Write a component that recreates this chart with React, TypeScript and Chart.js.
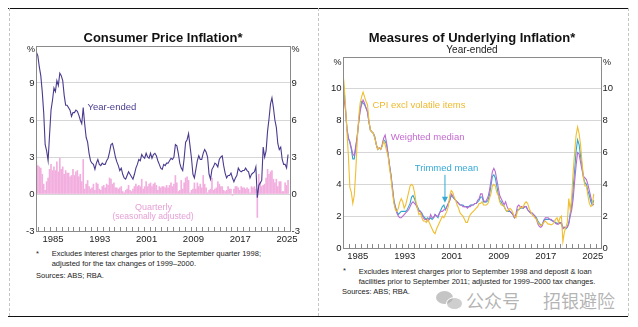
import React, { useEffect, useRef } from "react";
import { Chart, registerables } from "chart.js";

Chart.register(...registerables);

const FONT = "'Liberation Sans', Arial, Helvetica, sans-serif";
Chart.defaults.font.family = FONT;

// ---------- Data ----------
// Left chart: quarterly from 1982 Q3 to 2025 Q3
const leftStart = { year: 1982, quarter: 3 };
const yearEnded = [
  11.5, 11.2,
  10.3, 9.6, 8.3, 6.6,
  4.0, 3.5, 2.7, 4.8,
  6.8, 7.6, 8.6, 8.3,
  9.2, 8.8, 9.8, 9.6,
  9.2, 8.0, 7.2, 7.2,
  7.0, 6.8, 6.3, 6.6,
  6.6, 6.8, 6.7, 6.4,
  6.0, 5.7, 7.0, 5.7,
  4.6, 4.2, 3.3, 2.7,
  2.5, 2.4, 2.0, 2.5,
  2.8, 2.4, 2.3, 2.5,
  2.4, 2.4, 2.7, 2.9,
  3.4, 4.0, 4.1, 3.6,
  3.0, 2.6, 2.3, 1.9,
  2.1, 1.6, 1.3, 1.2,
  1.5, 1.8, 1.6, 1.4,
  1.2, 1.6, 2.1, 2.4,
  2.8, 2.7, 3.2, 3.0,
  2.9, 3.3, 3.0, 2.9,
  3.3, 2.9, 3.2, 3.3,
  3.1, 2.7, 2.4, 2.1,
  2.0, 2.4, 2.3, 2.5,
  2.5, 2.7, 2.9, 2.8,
  3.0, 4.0, 3.9, 3.3,
  2.5, 2.1, 1.9, 2.9,
  4.2, 4.4, 4.9, 3.9,
  2.9, 1.6, 1.3, 2.0,
  2.7, 3.1, 2.8, 2.8,
  3.3, 3.6, 3.4, 3.0,
  1.6, 1.2, 2.0, 2.2,
  2.5, 2.4, 2.2, 2.8,
  3.0, 3.1, 2.3, 1.7,
  1.3, 1.5, 1.5, 1.7,
  1.3, 1.0, 1.3, 1.5,
  2.1, 1.9, 1.8, 1.9,
  1.9, 2.1, 1.9, 1.8,
  1.3, 1.6, 1.7, 1.8,
  2.2, -0.3, 0.7, 0.9,
  1.1, 3.8, 3.0, 3.5,
  5.1, 6.1, 7.3, 7.8,
  7.0, 6.0, 5.4, 4.1,
  3.6, 3.8, 2.8, 2.4,
  2.4, 2.1, 3.2,
];
const quarterlySA = [
  2.6, 2.3,
  2.2, 2.1, 1.6, 0.8,
  0.3, 1.0, 1.3, 2.0,
  2.4, 1.9, 2.2, 1.9,
  2.6, 1.8, 2.9, 2.0,
  2.2, 1.6, 1.9, 1.7,
  1.7, 1.4, 1.5, 2.0,
  1.5, 1.8, 1.9, 1.4,
  1.6, 1.0, 2.8, 0.4,
  0.8, 1.1, 0.6, 0.4,
  0.5, 0.8, 0.3, 0.9,
  0.8, 0.4, 0.3, 0.6,
  0.7, 0.5, 0.8, 0.7,
  1.3, 1.2, 0.8, 0.9,
  0.5, 0.5, 0.4, 0.5,
  0.6, 0.2, 0.1, 0.3,
  0.4, 0.7, 0.3, 0.2,
  0.4, 0.6, 0.8, 0.6,
  0.7, 0.6, 1.2, 0.4,
  0.6, 1.0, 0.6, 0.8,
  0.9, 0.6, 0.8, 0.9,
  0.7, 0.3, 0.6, 0.5,
  0.6, 0.6, 0.5, 0.7,
  0.5, 0.7, 0.9, 0.6,
  0.8, 1.5, 0.9, 0.2,
  0.3, 1.1, 0.4, 0.9,
  1.3, 1.4, 1.1, 0.1,
  0.3, 0.4, 0.9, 0.4,
  0.9, 0.6, 0.8, 0.5,
  1.5, 0.8, 0.5, 0.1,
  0.3, 0.4, 1.3, 0.3,
  0.4, 0.5, 1.0, 0.8,
  0.6, 0.6, 0.3, 0.2,
  0.3, 0.6, 0.4, 0.4,
  -0.1, 0.4, 0.6, 0.6,
  0.5, 0.3, 0.6, 0.5,
  0.5, 0.4, 0.5, 0.4,
  0.1, 0.6, 0.5, 0.6,
  0.4, -1.9, 1.6, 0.9,
  0.6, 0.7, 0.8, 1.3,
  2.0, 1.6, 1.8, 1.9,
  1.2, 0.9, 1.2, 0.6,
  1.0, 1.0, 0.2, 0.2,
  0.9, 0.7, 1.1,
];

// Right chart: quarterly from 1982 Q4 to 2025 Q3
const rightStart = { year: 1982, quarter: 4 };
const trimmedMean = [
  10.8,
  10.0, 8.8, 7.5, 6.9,
  6.6, 6.2, 5.6, 5.6,
  6.3, 7.0, 7.9, 8.7,
  9.2, 9.1, 9.0, 8.8,
  8.6, 7.9, 7.4, 7.3,
  7.2, 7.0, 6.5, 6.2,
  6.3, 6.2, 6.4, 6.8,
  6.7, 6.5, 5.9, 5.2,
  4.6, 3.8, 3.0, 2.6,
  2.3, 2.1, 2.2, 2.3,
  2.3, 2.3, 2.3, 2.4,
  2.6, 2.8, 3.2, 3.3,
  3.1, 2.8, 2.6, 2.4,
  2.3, 2.2, 2.0, 1.9,
  1.8, 1.9, 1.8, 1.9,
  1.8, 1.9, 2.1, 2.0,
  1.9, 2.2, 2.4, 2.6,
  2.7, 2.4, 2.6, 2.8,
  3.0, 3.3, 3.2, 3.1,
  3.0, 2.9, 2.8, 2.7,
  2.7, 2.7, 2.6, 2.6,
  2.6, 2.6, 2.7, 2.7,
  2.7, 2.8, 2.8, 2.9,
  3.0, 3.2, 3.2, 2.9,
  2.9, 2.9, 3.0, 3.3,
  3.9, 4.5, 4.6, 4.4,
  3.9, 3.4, 3.0, 2.9,
  2.7, 2.6, 2.4, 2.3,
  2.3, 2.3, 2.2, 2.1,
  1.9, 2.0, 2.4, 2.4,
  2.5, 2.5, 2.5, 2.6,
  2.6, 2.4, 2.3, 2.2,
  2.2, 2.1, 2.0, 1.9,
  1.7, 1.55, 1.45, 1.5,
  1.75, 1.8, 1.8, 1.8,
  1.8, 1.75, 1.7, 1.7,
  1.6, 1.55, 1.55, 1.6,
  1.6, 1.3, 1.3, 1.2,
  1.3, 1.6, 2.2, 2.7,
  3.8, 4.9, 6.1, 6.8,
  6.5, 5.8, 5.2, 4.4,
  4.1, 4.0, 3.6, 3.3,
  2.9, 2.7, 3.0,
];
const weightedMedian = [
  9.8,
  9.4, 8.7, 7.5, 6.9,
  6.7, 6.3, 5.9, 5.8,
  6.4, 7.0, 7.9, 8.6,
  9.0, 9.3, 9.1, 8.8,
  8.5, 7.9, 7.4, 7.3,
  7.2, 6.9, 6.5, 6.2,
  6.3, 6.2, 6.5, 6.9,
  7.1, 6.6, 5.9, 5.2,
  4.5, 3.7, 2.9, 2.5,
  2.2, 2.0, 1.9, 1.9,
  2.0, 2.1, 2.2, 2.3,
  2.4, 2.6, 2.8, 2.9,
  2.8, 2.7, 2.5, 2.3,
  2.3, 2.1, 1.9, 1.8,
  1.8, 1.7, 1.8, 2.1,
  1.9, 1.9, 2.1, 2.0,
  2.0, 2.2, 2.3, 2.3,
  2.4, 2.4, 2.6, 2.8,
  3.0, 3.4, 3.3, 3.1,
  3.0, 2.9, 2.8, 2.7,
  2.7, 2.6, 2.6, 2.6,
  2.5, 2.6, 2.6, 2.7,
  2.7, 2.8, 2.8, 3.0,
  3.1, 3.4, 3.4, 3.0,
  2.9, 3.0, 3.2, 3.6,
  4.2, 4.8, 5.0, 4.8,
  4.3, 3.8, 3.3, 3.1,
  2.9, 2.7, 2.9, 2.6,
  2.4, 2.3, 2.2, 2.1,
  1.9, 2.1, 2.6, 2.7,
  2.6, 2.6, 2.5, 2.6,
  2.6, 2.4, 2.3, 2.2,
  2.2, 2.1, 2.0, 1.8,
  1.5, 1.35, 1.3, 1.4,
  1.7, 1.9, 1.9, 1.9,
  1.8, 1.8, 1.7, 1.65,
  1.55, 1.5, 1.5, 1.6,
  1.5, 1.2, 1.3, 1.3,
  1.3, 1.5, 2.0, 2.4,
  3.1, 4.2, 5.2, 6.0,
  5.9, 5.4, 4.9, 4.5,
  4.4, 4.3, 4.0, 3.6,
  3.2, 2.8, 2.7,
];
const cpiExVolatile = [
  11.2,
  10.4, 9.0, 7.3, 5.8,
  3.8, 3.5, 2.8, 3.3,
  4.8, 6.7, 8.2, 9.1,
  9.5, 9.8, 9.5, 9.2,
  9.0, 8.0, 7.4, 7.3,
  7.2, 6.9, 6.5, 6.2,
  6.3, 6.2, 6.4, 6.7,
  6.5, 6.1, 5.8, 5.0,
  4.4, 3.5, 2.8, 2.4,
  2.3, 2.5, 2.9, 3.1,
  2.9, 2.5, 2.7, 3.1,
  3.5, 3.9, 4.0, 3.9,
  3.5, 2.9, 2.5, 2.1,
  2.2, 1.9, 1.7, 1.7,
  1.6, 1.8, 1.6, 1.4,
  1.2, 1.0, 0.9, 1.2,
  1.4, 1.6, 1.8, 2.0,
  1.9, 2.1, 2.3, 2.6,
  3.3, 3.6, 3.5, 3.2,
  3.0, 2.7, 2.5, 2.2,
  2.1, 2.0, 1.8, 1.6,
  1.6, 1.9, 2.1, 2.2,
  2.3, 2.4, 2.5, 2.6,
  2.8, 2.8, 2.9, 2.7,
  2.7, 2.7, 2.8, 3.1,
  3.4, 3.9, 4.0, 3.9,
  3.5, 3.3, 2.9, 2.7,
  2.7, 2.6, 2.4, 2.3,
  2.4, 2.5, 2.4, 2.2,
  2.0, 1.9, 2.3, 2.4,
  2.6, 2.5, 2.6, 2.8,
  2.9, 2.8, 2.5, 2.3,
  2.1, 2.0, 1.9, 1.8,
  1.6, 1.5, 1.4, 1.5,
  1.6, 1.7, 1.6, 1.5,
  1.5, 1.45, 1.5, 1.6,
  1.8, 1.9, 1.6, 1.9,
  2.0, 0.4, 1.0, 1.3,
  1.6, 3.1, 2.4, 3.2,
  4.8, 6.0, 7.1, 7.6,
  7.2, 6.5, 5.4, 4.4,
  3.9, 3.9, 3.3, 2.8,
  2.6, 2.7, 3.4,
];

const xTickYears = [1985, 1993, 2001, 2009, 2017, 2025];
const leftYTicks = [-3, 0, 3, 6, 9, 12];
const rightYTicks = [0, 2, 4, 6, 8, 10, 12];

// ---------- helpers ----------
function quarterDates(start: { year: number; quarter: number }, n: number): number[] {
  const out: number[] = [];
  for (let i = 0; i < n; i++) {
    const q = start.quarter - 1 + i;
    const year = start.year + Math.floor(q / 4);
    const qi = (q % 4) + 1;
    out.push(year + (qi * 3 - 1) / 12);
  }
  return out;
}
const pts = (dates: number[], vals: number[]) => vals.map((v, i) => ({ x: dates[i], y: v }));

const frameTicksPlugin = {
  id: "frameTicks",
  afterDatasetsDraw(chart: any) {
    const { ctx, chartArea: a, scales } = chart;
    const xs = scales.x;
    ctx.save();
    ctx.strokeStyle = "#8a8a8a";
    ctx.lineWidth = 1;
    ctx.beginPath();
    for (let yr = Math.ceil(xs.min); yr <= xs.max; yr++) {
      const px = Math.round(xs.getPixelForValue(yr)) + 0.5;
      ctx.moveTo(px, Math.round(a.bottom));
      ctx.lineTo(px, Math.round(a.bottom) - 4);
    }
    ctx.stroke();
    ctx.strokeRect(
      Math.round(a.left) + 0.5,
      Math.round(a.top) + 0.5,
      Math.round(a.right) - Math.round(a.left),
      Math.round(a.bottom) - Math.round(a.top)
    );
    ctx.restore();
  },
};

const arrowAt = { x: 2000.35, from: 4.6, to: 2.85 };
const arrowPlugin = {
  id: "arrow",
  afterDatasetsDraw(chart: any) {
    const { ctx, scales } = chart;
    const px = scales.x.getPixelForValue(arrowAt.x);
    const y0 = scales.y.getPixelForValue(arrowAt.from);
    const y1 = scales.y.getPixelForValue(arrowAt.to);
    ctx.save();
    ctx.strokeStyle = "#35A9D5";
    ctx.fillStyle = "#35A9D5";
    ctx.lineWidth = 1;
    ctx.beginPath();
    ctx.moveTo(px, y0);
    ctx.lineTo(px, y1 - 5);
    ctx.stroke();
    ctx.beginPath();
    ctx.moveTo(px - 3, y1 - 6);
    ctx.lineTo(px + 3, y1 - 6);
    ctx.lineTo(px, y1);
    ctx.closePath();
    ctx.fill();
    ctx.restore();
  },
};

function yAxis(position: "left" | "right", min: number, max: number, ticks: number[], width: number, grid: boolean) {
  return {
    type: "linear",
    position,
    min,
    max,
    afterBuildTicks: (s: any) => {
      s.ticks = ticks.map((v) => ({ value: v }));
    },
    ticks: {
      callback: (v: any) => (Number(v) === max ? "" : String(v)),
      padding: 1.5,
      color: "#222",
      font: { size: 9.5 },
    },
    grid: {
      display: grid,
      drawTicks: false,
      color: (c: any) => (c.tick && (c.tick.value === min || c.tick.value === max) ? "rgba(0,0,0,0)" : "#d6d6d6"),
      lineWidth: 1,
    },
    border: { display: false },
    afterFit: (s: any) => {
      s.width = width;
    },
  };
}

function xAxis(min: number, max: number) {
  return {
    type: "linear",
    min,
    max,
    offset: false,
    afterBuildTicks: (s: any) => {
      s.ticks = xTickYears.map((y) => ({ value: y + 0.5 }));
    },
    ticks: {
      callback: (v: any) => String(Math.floor(Number(v))),
      autoSkip: false,
      maxRotation: 0,
      padding: 3,
      color: "#222",
      font: { size: 9.5 },
    },
    grid: { display: false, drawTicks: false },
    border: { display: false },
    afterFit: (s: any) => {
      s.height = 16;
    },
  };
}

function T(props: {
  x: number;
  y: number;
  text: string;
  align?: "left" | "center" | "right";
  size?: number;
  color?: string;
  bold?: boolean;
  font?: string;
}) {
  const { x, y, text, align = "left", size = 9.5, color = "#222", bold = false, font = FONT } = props;
  const tx = align === "left" ? "0" : align === "center" ? "-50%" : "-100%";
  return (
    <div
      style={{
        position: "absolute",
        left: x,
        top: y,
        transform: `translate(${tx}, -50%)`,
        fontSize: size,
        lineHeight: 1,
        color,
        fontWeight: bold ? "bold" : "normal",
        whiteSpace: "nowrap",
        fontFamily: font,
      }}
    >
      {text}
    </div>
  );
}

export default function App() {
  const leftRef = useRef<HTMLCanvasElement | null>(null);
  const rightRef = useRef<HTMLCanvasElement | null>(null);

  useEffect(() => {
    const leftDates = quarterDates(leftStart, yearEnded.length);
    const rightDates = quarterDates(rightStart, trimmedMean.length);

    const left = new Chart(leftRef.current as HTMLCanvasElement, {
      type: "line",
      data: {
        datasets: [
          {
            type: "bar",
            label: "Quarterly",
            data: pts(leftDates, quarterlySA),
            backgroundColor: "#F2AEDF",
            barThickness: 1,
            order: 2,
          } as any,
          {
            type: "line",
            label: "Year-ended",
            data: pts(leftDates, yearEnded),
            borderColor: "#4B3B8F",
            borderWidth: 1.1,
            pointRadius: 0,
            tension: 0,
            order: 1,
          },
        ],
      },
      options: {
        animation: false,
        responsive: false,
        maintainAspectRatio: false,
        layout: { padding: { top: 10, left: 0, right: 0, bottom: 0 } },
        plugins: { legend: { display: false }, tooltip: { enabled: false }, title: { display: false } },
        scales: {
          x: xAxis(1982.6, 2026.0),
          y: yAxis("left", -3, 12, leftYTicks, 36, true),
          y2: yAxis("right", -3, 12, leftYTicks, 28, false),
        } as any,
      },
      plugins: [frameTicksPlugin],
    });

    const lineDs = (label: string, vals: number[], color: string) => ({
      type: "line" as const,
      label,
      data: pts(rightDates, vals),
      borderColor: color,
      borderWidth: 1.1,
      pointRadius: 0,
      tension: 0,
    });

    const right = new Chart(rightRef.current as HTMLCanvasElement, {
      type: "line",
      data: {
        datasets: [
          lineDs("CPI excl volatile items", cpiExVolatile, "#F0BE30"),
          lineDs("Weighted median", weightedMedian, "#B86AD0"),
          lineDs("Trimmed mean", trimmedMean, "#33A6CC"),
        ],
      },
      options: {
        animation: false,
        responsive: false,
        maintainAspectRatio: false,
        layout: { padding: { top: 10, left: 0, right: 0, bottom: 0 } },
        plugins: { legend: { display: false }, tooltip: { enabled: false }, title: { display: false } },
        scales: {
          x: xAxis(1983.0, 2026.9),
          y: yAxis("left", 0, 12, rightYTicks, 25, true),
          y2: yAxis("right", 0, 12, rightYTicks, 37, false),
        } as any,
      },
      plugins: [frameTicksPlugin, arrowPlugin],
    });

    return () => {
      left.destroy();
      right.destroy();
    };
  }, []);

  const dash = (x: number) => (
    <div style={{ position: "absolute", left: x, top: 8, height: 308, borderLeft: "1px dashed #c4c4c4" }} />
  );

  return (
    <div
      style={{
        position: "absolute",
        left: 0,
        top: 0,
        width: 638,
        height: 327,
        background: "#fff",
        overflow: "hidden",
        fontFamily: FONT,
      }}
    >
      <div style={{ position: "absolute", left: 8, top: 8, width: 620, height: 1, background: "#111" }} />
      <div style={{ position: "absolute", left: 8, top: 316, width: 620, height: 1, background: "#111" }} />
      {dash(9)}
      {dash(318)}
      {dash(628)}

      <canvas
        ref={leftRef}
        width={318}
        height={211}
        style={{ position: "absolute", left: 0, top: 36, width: 318, height: 211 }}
      />
      <canvas
        ref={rightRef}
        width={320}
        height={217}
        style={{ position: "absolute", left: 318, top: 47, width: 320, height: 217 }}
      />

      {/* Left panel text */}
      <T x={163} y={37} text="Consumer Price Inflation*" align="center" size={13} bold color="#111" />
      <T x={35} y={49} text="%" align="right" size={9} />
      <T x={291.5} y={49} text="%" align="left" size={9} />
      <T x={87.5} y={107} text="Year-ended" size={9.5} color="#4B3B8F" />
      <T x={153.5} y={206.5} text="Quarterly" align="center" size={9} color="#E6A0D6" />
      <T x={153} y={215.7} text="(seasonally adjusted)" align="center" size={8.6} color="#E6A0D6" />
      <T x={36} y={253.5} text="*" size={7.5} />
      <T x={51.7} y={254.3} text="Excludes interest charges prior to the September quarter 1998;" size={7.5} />
      <T x={51.7} y={264.3} text="adjusted for the tax changes of 1999–2000." size={7.5} />
      <T x={36} y={276} text="Sources: ABS; RBA." size={7.5} />

      {/* Right panel text */}
      <T x={472} y={37} text="Measures of Underlying Inflation*" align="center" size={13} bold color="#111" />
      <T x={472} y={50} text="Year-ended" align="center" size={10} color="#222" />
      <T x={341.5} y={62} text="%" align="right" size={9} />
      <T x={603} y={62} text="%" align="left" size={9} />
      <T x={372.5} y={105.3} text="CPI excl volatile items" size={9.5} color="#EDB92E" />
      <T x={390.7} y={136.7} text="Weighted median" size={9.5} color="#C46BD0" />
      <T x={414.7} y={168.3} text="Trimmed mean" size={9.5} color="#35A9D5" />
      <T x={343} y={271} text="*" size={7.5} />
      <T x={358.7} y={271.7} text="Excludes interest charges prior to September 1998 and deposit & loan" size={7.5} />
      <T x={358.7} y={281.5} text="facilities prior to September 2011; adjusted for 1999–2000 tax changes." size={7.5} />
      <T x={342} y={292.3} text="Sources: ABS; RBA." size={7.5} />

      {/* watermark */}
      <div
        style={{
          position: "absolute",
          left: 436,
          top: 291,
          width: 17,
          height: 13,
          borderRadius: "50%",
          background: "rgba(150,150,150,0.55)",
        }}
      />
      <div
        style={{
          position: "absolute",
          left: 446,
          top: 297,
          width: 15,
          height: 11,
          borderRadius: "50%",
          background: "rgba(165,165,165,0.55)",
          border: "1px solid #fff",
        }}
      />
      <T
        x={466}
        y={300}
        text="公众号"
        size={18}
        color="rgba(130,130,130,0.6)"
        font="'Noto Sans CJK SC', sans-serif"
      />
      <T
        x={543}
        y={300}
        text="招银避险"
        size={18}
        color="rgba(130,130,130,0.6)"
        font="'Noto Sans CJK SC', sans-serif"
      />
    </div>
  );
}
